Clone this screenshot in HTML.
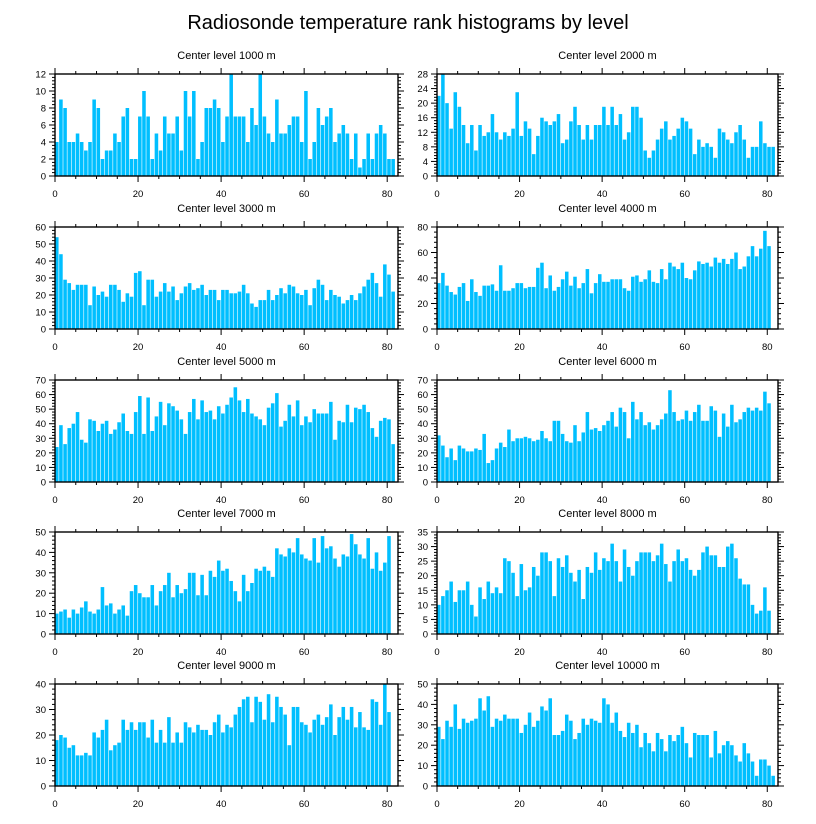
<!DOCTYPE html>
<html><head><meta charset="utf-8"><style>
html,body{margin:0;padding:0;background:#fff;}
svg{display:block;font-family:"Liberation Sans",sans-serif;}
</style></head><body>
<svg id="chart" width="816" height="824" viewBox="0 0 816 824" xmlns="http://www.w3.org/2000/svg">
<text x="408" y="29" text-anchor="middle" font-size="20">Radiosonde temperature rank histograms by level</text>
</svg>
<script>
const levels = ["1000","2000","3000","4000","5000","6000","7000","8000","9000","10000"];
const yMaxes = [12,28,60,80,70,70,50,35,40,50];
const yMajors = [2,4,10,20,10,10,10,5,10,10];
const xTicks = [0,20,40,60,80];
const c1000 = [4,9,8,4,4,5,4,3,4,9,8,2,3,3,5,4,7,8,2,2,7,10,7,2,5,3,7,5,5,7,3,10,7,10,2,4,8,8,9,8,4,7,12,7,7,7,4,8,6,12,7,5,4,9,5,5,6,7,7,4,10,2,4,8,6,7,8,4,5,6,5,2,5,1,2,5,2,5,6,5,2,2];
const c2000 = [22,28,20,13,23,19,14,9,14,7,14,11,12,17,12,10,12,11,13,23,11,15,13,6,11,16,15,14,15,17,9,10,15,19,14,10,14,10,14,14,19,14,19,14,17,10,12,19,19,16,7,5,7,10,13,15,10,11,13,16,15,13,6,10,8,9,8,5,13,12,10,9,12,14,10,5,8,8,15,9,8,8];
const c3000 = [54,44,29,27,23,26,26,26,14,25,20,22,19,26,26,23,16,21,19,33,34,14,29,29,19,22,27,22,25,17,21,25,27,23,24,26,20,23,23,17,23,23,21,21,22,26,21,15,13,17,17,23,17,20,24,21,26,25,21,20,23,14,24,29,26,17,23,20,19,15,17,20,17,21,25,29,33,27,19,38,32,22];
const c4000 = [36,44,34,29,27,33,36,22,39,29,26,34,34,35,30,50,30,30,32,36,36,32,33,33,48,52,32,42,30,33,39,45,34,41,32,36,47,28,36,43,37,37,39,39,39,32,30,41,42,37,39,46,37,36,47,39,52,49,47,52,40,39,46,53,51,52,49,56,52,55,51,55,60,47,49,57,65,57,63,77,65];
const c5000 = [24,39,26,37,40,48,29,27,43,42,35,40,42,33,36,41,47,35,33,48,59,33,58,35,45,55,39,54,52,49,43,33,48,57,43,56,48,49,43,52,47,53,58,65,56,48,57,47,45,43,39,51,54,61,38,42,53,45,56,39,45,41,50,47,47,47,55,29,42,41,53,41,51,50,53,48,37,31,42,44,43,26];
const c6000 = [32,25,17,23,15,25,23,21,21,23,22,33,13,15,23,27,24,36,28,30,30,31,30,28,29,35,30,28,42,42,33,28,27,39,28,34,48,36,37,35,39,42,48,38,51,48,30,55,43,48,39,41,36,39,43,47,63,48,42,43,49,42,48,53,42,42,52,49,31,47,38,53,41,43,48,51,49,51,49,62,54];
const c7000 = [10,11,12,8,12,10,13,16,11,10,12,23,14,15,10,12,14,9,21,24,20,18,18,24,14,21,24,30,18,24,20,22,30,30,19,29,19,31,28,36,31,32,26,21,16,29,21,25,32,31,33,31,28,42,39,38,42,40,47,39,37,36,47,35,48,42,43,37,33,39,38,49,44,39,37,47,32,40,31,35,48];
const c8000 = [10,13,15,18,11,15,15,18,10,6,16,12,18,14,16,14,26,25,21,13,24,15,16,23,20,28,28,25,13,26,23,27,21,18,22,12,23,21,28,22,26,25,31,25,18,29,23,20,25,28,28,28,25,27,31,24,18,25,29,25,26,22,20,22,28,30,27,27,23,23,30,31,26,19,17,17,10,7,8,16,8];
const c9000 = [18,20,19,15,16,12,12,13,12,21,19,22,26,14,16,17,26,22,25,22,25,25,19,26,17,22,17,27,17,21,17,25,23,21,24,22,22,20,25,28,21,24,23,28,31,34,35,25,35,33,26,36,25,35,31,28,16,31,31,25,24,21,26,28,24,27,32,20,27,31,26,31,23,29,23,22,34,33,24,40,29];
const c10000 = [29,23,32,29,40,28,33,31,32,33,43,37,44,29,33,32,35,33,33,33,26,30,36,29,32,39,37,43,25,25,27,35,32,23,26,33,30,33,32,31,43,40,31,36,27,24,31,26,30,19,26,21,17,26,23,17,25,22,25,29,21,14,26,25,25,25,14,27,16,20,22,20,15,12,21,16,12,5,13,13,10,5];
const counts = [c1000,c2000,c3000,c4000,c5000,c6000,c7000,c8000,c9000,c10000];

const NS = "http://www.w3.org/2000/svg";
const svg = document.getElementById('chart');
const XMAX = 82.6;
const panelH = 102;
const tops = [74,227,380,532,684];
const lefts = [55,437];
const widths = [343,341];
function mk(tag, attrs, parent){
  const e = document.createElementNS(NS, tag);
  for (const k in attrs) e.setAttribute(k, attrs[k]);
  (parent||svg).appendChild(e);
  return e;
}
counts.forEach((data, p) => {
  const row = Math.floor(p/2), col = p%2;
  const x0 = lefts[col], w = widths[col], y0 = tops[row], h = panelH;
  const ymax = yMaxes[p], major = yMajors[p];
  const xs = v => x0 + v / XMAX * w;
  const ys = v => y0 + h - v / ymax * h;
  const g = mk('g', {});
  
  
  const t = mk('text', {x: x0 + w/2, y: y0 - 15, 'text-anchor': 'middle', 'font-size': 11}, g);
  
  
  t.textContent = 'Center level ' + levels[p] + ' m';
  data.forEach((v, i) => {
    const r = mk('rect', {x: xs(i), y: ys(v), width: Math.max(0, xs(i+1) - xs(i) - 0.6), height: ys(0) - ys(v), fill: '#00bfff'}, g);
    
    
  });
  const f = mk('rect', {x: x0, y: y0, width: w, height: h, fill: 'none', stroke: '#000', 'stroke-width': 1.4}, g);
  
  
  for (let v = 0; v <= 80; v += 5) {
    const len = (v % 20 === 0) ? 6 : 3;
    mk('line', {x1: xs(v), x2: xs(v), y1: y0 + h, y2: y0 + h + len, stroke: '#000', 'stroke-width': 1}, g);
    mk('line', {x1: xs(v), x2: xs(v), y1: y0, y2: y0 - len, stroke: '#000', 'stroke-width': 1}, g);
  }
  xTicks.forEach(v => {
    const l = mk('text', {x: xs(v), y: y0 + h + 21, 'text-anchor': 'middle', 'font-size': 9.5}, g);
    
    
    l.textContent = v;
  });
  const minor = major / 5;
  for (let k = 0; k * minor <= ymax + 1e-9; k++) {
    const v = k * minor;
    const len = (k % 5 === 0) ? 6 : 3;
    mk('line', {x1: x0, x2: x0 - len, y1: ys(v), y2: ys(v), stroke: '#000', 'stroke-width': 1}, g);
    mk('line', {x1: x0 + w, x2: x0 + w + len, y1: ys(v), y2: ys(v), stroke: '#000', 'stroke-width': 1}, g);
  }
  for (let v = 0; v <= ymax + 1e-9; v += major) {
    const l = mk('text', {x: x0 - 9, y: ys(v) + 3.5, 'text-anchor': 'end', 'font-size': 9.5}, g);
    
    
    l.textContent = v;
  }
});
</script>
</body></html>
